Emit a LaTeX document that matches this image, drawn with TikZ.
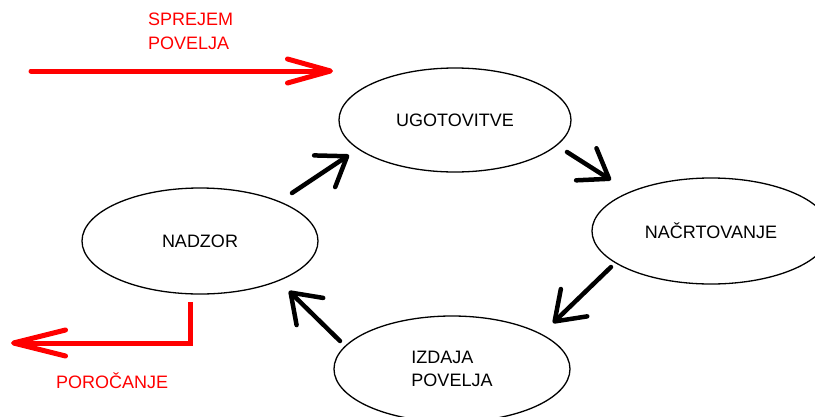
\documentclass[tikz,border=0pt]{standalone}
\usepackage{fontspec}
\setmainfont{Liberation Sans}
\usetikzlibrary{arrows.meta,shapes.geometric}
\begin{document}
\begin{tikzpicture}[x=1pt,y=-1pt,
  phase/.style={draw, ellipse, line width=1.3pt, inner sep=0pt,
    minimum width=236pt, minimum height=106pt,
    font=\fontsize{18}{23.5}\selectfont, align=left},
  flow/.style={line width=4.5pt, line cap=round, line join=round,
    -{Straight Barb[length=27pt,width=38pt,round]}},
  redflow/.style={red, line width=5pt, line join=miter},
  redlabel/.style={red, inner sep=0pt, align=left,
    font=\fontsize{18}{23.5}\selectfont}
]
\useasboundingbox (0,0) rectangle (815,416);
\fill[white] (0,0) rectangle (815,416);

% phases
\node[phase, minimum width=232pt, minimum height=104pt] (ugot) at (455,120) {UGOTOVITVE};
\node[phase, minimum width=238pt] (nacrt) at (711,231) {NAČRTOVANJE};
\node[phase] (nadzor) at (200,241) {NADZOR};
\node[phase] (izdaja) at (452,369) {IZDAJA\\POVELJA};

% arrow end points
\coordinate (a1s) at (292,193); \coordinate (a1e) at (349,155);
\coordinate (a2s) at (567,152); \coordinate (a2e) at (611,180);
\coordinate (a3s) at (611,267); \coordinate (a3e) at (553,323);
\coordinate (a4s) at (340,341); \coordinate (a4e) at (289,291);

\draw[flow] (a1s) -- (a1e);
\draw[flow] (a2s) -- (a2e);
\draw[flow] (a3s) -- (a3e);
\draw[flow] (a4s) -- (a4e);

% charter acceptance
\coordinate (ins) at (31,71);
\coordinate (ine) at (333,71);
\draw[redflow, line cap=round, -{Straight Barb[length=43pt,width=24pt,round]}] (ins) -- (ine);
\node[redlabel, anchor=north west] (sprejem) at (148,13) {SPREJEM\\POVELJA};

% reporting
\coordinate (outs) at (190,302);
\coordinate (outc) at (190,343);
\coordinate (oute) at (11,343);
\draw[redflow, -{Straight Barb[length=52pt,width=26pt,round]}] (outs) -- (outc) -- (oute);
\node[redlabel, anchor=base west] (porocanje) at (56,388) {POROČANJE};
\end{tikzpicture}
\end{document}
